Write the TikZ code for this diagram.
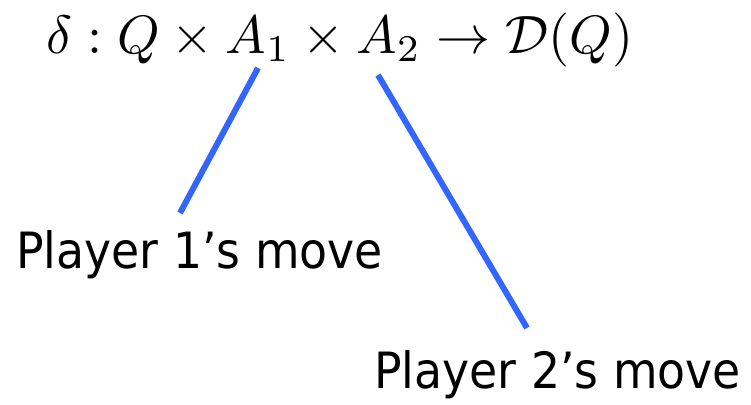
\documentclass[tikz,border=0pt]{standalone}
\usepackage{fontspec}
\newfontfamily\labelfont[FakeStretch=0.915]{DejaVu Sans}
\definecolor{lineblue}{RGB}{51,102,255}
\begin{document}
\begin{tikzpicture}[x=1pt,y=-1pt,
  lbl/.style={font=\labelfont\fontsize{50}{60}\selectfont, anchor=base west, inner sep=0pt},
  conn/.style={draw=lineblue, line width=6pt}]
\useasboundingbox (0,0) rectangle (751,404);
\node[anchor=base west, inner sep=0pt] (f) at (46,53) {\scalebox{5.4}{$\delta: Q\times A_1\times A_2\to \mathcal{D}(Q)$}};
\node[lbl] (p1) at (16,268) {Player 1’s move};
\node[lbl] (p2) at (374,388) {Player 2’s move};
\coordinate (a1) at (258,68);
\coordinate (b1) at (180,213);
\coordinate (a2) at (378,75);
\coordinate (b2) at (527,328);
\draw[conn] (a1) -- (b1);
\draw[conn] (a2) -- (b2);
\end{tikzpicture}
\end{document}
